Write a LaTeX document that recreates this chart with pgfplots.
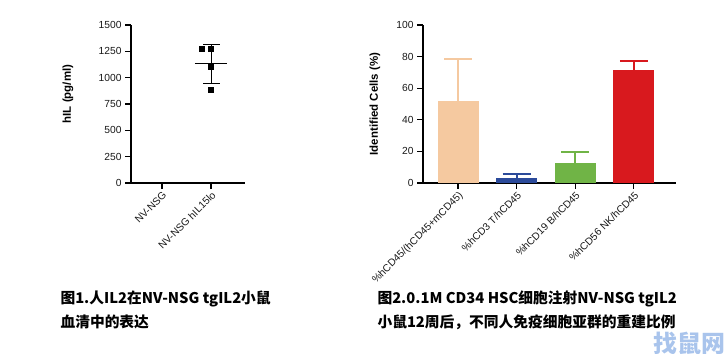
\documentclass[border=0pt]{standalone}
\usepackage{pgfplots}
\pgfplotsset{compat=1.18}
\usepackage{fontspec}
\setmainfont{Liberation Sans}
\newfontfamily\cjk{Noto Sans CJK SC}
\definecolor{peach}{HTML}{F5C9A0}
\definecolor{navy}{HTML}{2B4A9A}
\definecolor{grn}{HTML}{70B446}
\definecolor{redb}{HTML}{D8191E}
\definecolor{wm}{HTML}{A9C4EC}
\begin{document}
\begin{tikzpicture}
\path[use as bounding box] (0bp,0bp) rectangle (725bp,354bp);
\pgfplotsset{
  every axis/.append style={
    scale only axis, axis lines=left, axis line style={line width=1.3bp, -},
    tick style={line width=1.3bp, black}, tick align=outside, major tick length=6bp,
    /pgf/number format/assume math mode=true,
    /pgf/number format/1000 sep={},
    tick label style={font=\fontsize{10.3}{12}\selectfont, text=black!90},
    ylabel style={font=\bfseries\fontsize{11.5}{13}\selectfont},
    x tick label style={rotate=45, anchor=north east, inner sep=1.2bp},
  }
}
\begin{axis}[at={(131bp,171bp)}, anchor=south west, width=114bp, height=158bp,
  xmin=-0.63, xmax=1.69, ymin=0, ymax=1500,
  xtick={0,1}, xticklabels={NV-NSG, NV-NSG hIL15lo},
  ytick={0,250,...,1500},
  ylabel={hIL (pg/ml)},
  ylabel style={at={(axis description cs:-0.553,0.563)}, anchor=center},
  clip=false]
\addplot[only marks, mark=square*, mark size=2.6bp, black] coordinates {(0.81,1272)(1,1272)(1,1103)(1,882)};
\addplot[black, line width=1.3bp] coordinates {(0.67,1135)(1.33,1135)};
\addplot[black, line width=1.1bp] coordinates {(1,946)(1,1319)};
\addplot[black, line width=1.1bp] coordinates {(0.84,1319)(1.18,1319)};
\addplot[black, line width=1.1bp] coordinates {(0.84,946)(1.18,946)};
\end{axis}
\begin{axis}[at={(423bp,171bp)}, anchor=south west, width=253bp, height=158bp,
  xmin=-0.6, xmax=3.72, ymin=0, ymax=100,
  xtick={0,1,2,3},
  xticklabels={\%hCD45/(hCD45+mCD45), \%hCD3 T/hCD45, \%hCD19 B/hCD45, \%hCD56 NK/hCD45},
  ytick={0,20,...,100},
  ylabel={Identified Cells (\%)},
  ylabel style={at={(axis description cs:-0.19,0.5)}, anchor=center},
  ybar, bar width=0.7, bar shift=0pt]
\addplot[fill=peach, draw=none, error bars/.cd, y dir=plus, y explicit,
  error bar style={line width=2bp, peach}, error mark options={rotate=90, line width=2bp, peach, mark size=14bp}]
  coordinates {(0,52.0) +- (0,26.2)};
\addplot[fill=navy, draw=none, error bars/.cd, y dir=plus, y explicit,
  error bar style={line width=2bp, navy}, error mark options={rotate=90, line width=2bp, navy, mark size=14bp}]
  coordinates {(1,3.2) +- (0,2.5)};
\addplot[fill=grn, draw=none, error bars/.cd, y dir=plus, y explicit,
  error bar style={line width=2bp, grn}, error mark options={rotate=90, line width=2bp, grn, mark size=14bp}]
  coordinates {(2,12.5) +- (0,7.2)};
\addplot[fill=redb, draw=none, error bars/.cd, y dir=plus, y explicit,
  error bar style={line width=2bp, redb}, error mark options={rotate=90, line width=2bp, redb, mark size=14bp}]
  coordinates {(3,71.3) +- (0,6.1)};
\end{axis}
\node[anchor=west, align=left, font=\cjk\bfseries\fontsize{14.8}{24}\selectfont] at (57bp,44bp) {图1.人IL2在NV-NSG tgIL2小鼠\\血清中的表达};
\node[anchor=west, align=left, font=\cjk\bfseries\fontsize{14.8}{24}\selectfont] at (374bp,44bp) {图2.0.1M CD34 HSC细胞注射NV-NSG tgIL2\\小鼠12周后，不同人免疫细胞亚群的重建比例};
\node[anchor=north west, inner sep=0pt, text=wm, font=\cjk\bfseries\fontsize{24}{24}\selectfont] at (653bp,22bp) {找鼠网};
\end{tikzpicture}
\end{document}
